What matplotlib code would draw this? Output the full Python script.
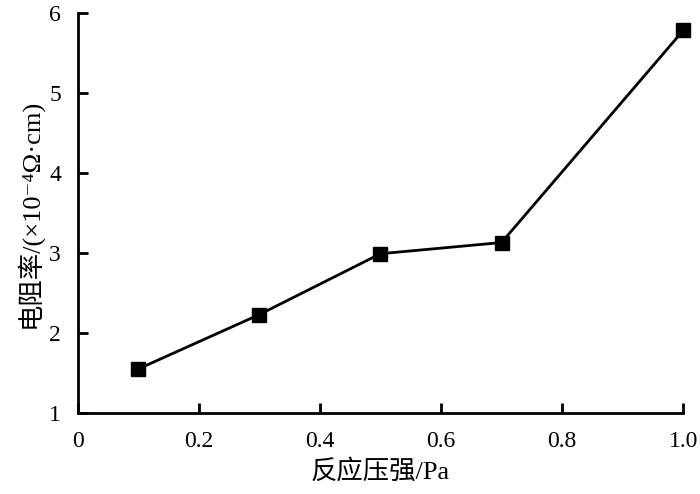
import matplotlib
matplotlib.use("Agg")
import matplotlib.pyplot as plt

# values
pressure = [0.1, 0.3, 0.5, 0.7, 1.0]
resistivity = [1.55, 2.23, 2.99, 3.13, 5.78]
x_ticks = [0, 0.2, 0.4, 0.6, 0.8, 1.0]
x_labels = ["0", "0.2", "0.4", "0.6", "0.8", "1.0"]
y_ticks = [1, 2, 3, 4, 5, 6]

plt.rcParams['font.family'] = ['Liberation Serif', 'Noto Sans CJK SC', 'DejaVu Serif']

fig = plt.figure(figsize=(7, 4.94), dpi=100)
ax = fig.add_axes([0.111, 0.164, 0.865, 0.810])

ax.plot(pressure, resistivity, color='black', lw=2, marker='s', ms=10,
        markerfacecolor='black', markeredgecolor='black', clip_on=False)

ax.set_xlim(0, 1.0)
ax.set_ylim(1, 6)
ax.set_xticks(x_ticks)
ax.set_xticklabels(x_labels)
ax.set_yticks(y_ticks)
ax.tick_params(direction='in', length=7, width=2, labelsize=17)
ax.tick_params(axis='x', pad=13)
ax.tick_params(axis='y', pad=12)
for side in ['top', 'right']:
    ax.spines[side].set_visible(False)
for side in ['left', 'bottom']:
    ax.spines[side].set_linewidth(2)

ax.set_xlabel('反应压强/Pa', fontsize=19, labelpad=5)
ax.set_ylabel('电阻率/(×10⁻⁴Ω·cm)', fontsize=19, labelpad=5)

fig.savefig('out.png', dpi=100)
